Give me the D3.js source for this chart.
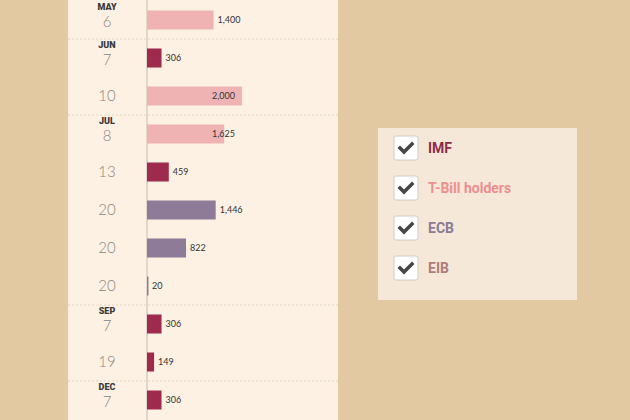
<!DOCTYPE html>
<html>
<head>
<meta charset="utf-8">
<script src="https://cdn.jsdelivr.net/npm/d3@7"></script>
<style>
  body { margin: 0; background: #e3c9a1; }
  svg { display: block; }
</style>
</head>
<body>
<div id="chart"></div>
<script>
(function () {

  // repayment schedule rows
  var months = ["MAY", "JUN", "", "JUL", "", "", "", "", "SEP", "", "DEC"]
  var days = [6, 7, 10, 8, 13, 20, 20, 20, 7, 19, 7]
  var amounts = [1400, 306, 2000, 1625, 459, 1446, 822, 20, 306, 149, 306]
  var creditors = ["T-Bill holders", "IMF", "T-Bill holders", "T-Bill holders", "IMF",
    "ECB", "ECB", "ECB", "IMF", "IMF", "IMF"]

  // legend
  var legendNames = ["IMF", "T-Bill holders", "ECB", "EIB"]
  var barColors = ["#9e2a4d", "#f0b3b4", "#8e7b97", "#b07c7c"]
  var textColors = ["#8f2b4c", "#ef8d8f", "#8a7b96", "#b07c7c"]

  var width = 630, height = 420

  var svg = d3.select("#chart").append("svg")
    .attr("width", width)
    .attr("height", height)

  // panel
  svg.append("rect")
    .attr("x", 68).attr("y", 0)
    .attr("width", 270).attr("height", height)
    .attr("fill", "#fdf1e3")

  var rows = d3.range(days.length)

  var yScale = d3.scaleBand()
    .domain(rows)
    .range([1, 419])
    .paddingInner(0.5)
    .paddingOuter(0.25)

  var xScale = d3.scaleLinear()
    .domain([0, 2000])
    .range([147, 242])

  var colorScale = d3.scaleOrdinal()
    .domain(legendNames)
    .range(barColors)

  var center = function (i) { return yScale(i) + yScale.bandwidth() / 2 }

  // dashed separators before each new month
  var seps = rows.filter(function (i) { return i > 0 && months[i] !== "" })
  svg.selectAll(".sep")
    .data(seps)
    .enter().append("line")
    .attr("class", "sep")
    .attr("x1", 68).attr("x2", 338)
    .attr("y1", function (i) { return yScale(i) - yScale.step() * 0.25 })
    .attr("y2", function (i) { return yScale(i) - yScale.step() * 0.25 })
    .attr("stroke", "#e6d3bd")
    .attr("stroke-dasharray", "2,2")

  // axis line
  svg.append("line")
    .attr("x1", xScale(0)).attr("x2", xScale(0))
    .attr("y1", 0).attr("y2", height)
    .attr("stroke", "#c9bcae")

  // bars
  svg.selectAll(".bar")
    .data(rows)
    .enter().append("rect")
    .attr("class", "bar")
    .attr("x", xScale(0))
    .attr("y", function (i) { return yScale(i) })
    .attr("width", function (i) { return Math.max(1.5, xScale(amounts[i]) - xScale(0)) })
    .attr("height", yScale.bandwidth())
    .attr("fill", function (i) { return colorScale(creditors[i]) })

  // value labels
  svg.selectAll(".val")
    .data(rows)
    .enter().append("text")
    .attr("class", "val")
    .attr("x", function (i) {
      var v = amounts[i]
      return v > 1500 ? xScale(1370) : xScale(v) + 4
    })
    .attr("y", function (i) { return center(i) })
    .attr("dy", "0.35em")
    .attr("font-family", "Lato, sans-serif")
    .attr("font-size", 9)
    .attr("fill", "#333")
    .text(function (i) { return d3.format(",")(amounts[i]) })

  // month labels
  svg.selectAll(".month")
    .data(rows.filter(function (i) { return months[i] !== "" }))
    .enter().append("text")
    .attr("class", "month")
    .attr("x", 107)
    .attr("y", function (i) { return center(i) - 10 })
    .attr("text-anchor", "middle")
    .attr("font-family", "Roboto, sans-serif")
    .attr("font-weight", 900)
    .attr("font-size", 9)
    .attr("fill", "#3a3a3a")
    .text(function (i) { return months[i] })

  // day labels
  svg.selectAll(".day")
    .data(rows)
    .enter().append("text")
    .attr("class", "day")
    .attr("x", 107)
    .attr("y", function (i) { return months[i] !== "" ? center(i) + 2 : center(i) })
    .attr("dy", "0.36em")
    .attr("text-anchor", "middle")
    .attr("font-family", "Lato, sans-serif")
    .attr("font-weight", 300)
    .attr("font-size", 15)
    .attr("fill", "#8a8580")
    .text(function (i) { return days[i] })

  // legend box
  var legend = svg.append("g")
    .attr("transform", "translate(378,128)")

  legend.append("rect")
    .attr("width", 199).attr("height", 172)
    .attr("fill", "#f5e8d9")

  var item = legend.selectAll(".item")
    .data(legendNames)
    .enter().append("g")
    .attr("class", "item")
    .attr("transform", function (d, i) { return "translate(16," + (20 + i * 40) + ")" })

  item.append("rect")
    .attr("x", 0).attr("y", -12)
    .attr("width", 24).attr("height", 24)
    .attr("rx", 2)
    .attr("fill", "#fff")
    .attr("stroke", "#cfcac4")

  item.append("path")
    .attr("d", "M6,0 L10,4 L18,-4")
    .attr("fill", "none")
    .attr("stroke", "#444")
    .attr("stroke-width", 3.5)
    .attr("stroke-linecap", "square")

  item.append("text")
    .attr("x", 34)
    .attr("dy", "0.35em")
    .attr("font-family", "Roboto, sans-serif")
    .attr("font-weight", "bold")
    .attr("font-size", 14)
    .attr("fill", function (d, i) { return textColors[i] })
    .text(function (d) { return d })

})()
</script>
</body>
</html>
